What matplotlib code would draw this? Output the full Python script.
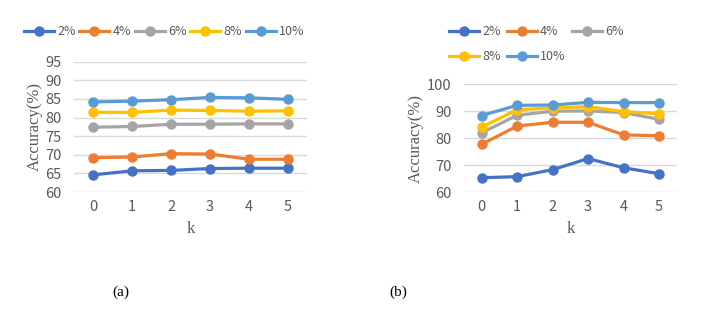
import numpy as np
import matplotlib
matplotlib.use("Agg")
import matplotlib.pyplot as plt

k = [0, 1, 2, 3, 4, 5]
labels = ["2%", "4%", "6%", "8%", "10%"]
colors = ["#4472C4", "#ED7D31", "#A5A5A5", "#FFC000", "#5B9BD5"]

# panel (a)
acc_a = [
    [64.6, 65.7, 65.8, 66.3, 66.4, 66.4],
    [69.2, 69.4, 70.3, 70.2, 68.8, 68.8],
    [77.4, 77.6, 78.2, 78.2, 78.3, 78.3],
    [81.4, 81.4, 82.0, 81.9, 81.7, 81.8],
    [84.2, 84.4, 84.8, 85.4, 85.3, 84.9],
]
# panel (b)
acc_b = [
    [65.3, 65.7, 68.3, 72.4, 69.0, 66.8],
    [77.7, 84.5, 85.9, 85.9, 81.2, 80.9],
    [82.0, 88.5, 90.0, 90.1, 89.5, 87.0],
    [84.1, 90.6, 91.2, 91.7, 89.8, 89.1],
    [88.4, 92.2, 92.3, 93.3, 93.2, 93.2],
]
yticks_a = [60, 65, 70, 75, 80, 85, 90, 95]
yticks_b = [60, 70, 80, 90, 100]

W, H = 708, 314
fig = plt.figure(figsize=(W / 100, H / 100), dpi=100)

tick_font = ["Noto Sans CJK SC", "DejaVu Sans"]
gray = "#595959"


def style(ax, yticks):
    ax.set_xlim(-0.5, 5.5)
    ax.set_ylim(yticks[0], yticks[-1])
    ax.set_yticks(yticks)
    ax.set_xticks(k)
    for s in ax.spines.values():
        s.set_visible(False)
    ax.tick_params(length=0, colors=gray, labelsize=10.5)
    ax.tick_params(axis="y", pad=9)
    ax.tick_params(axis="x", pad=6)
    for t in ax.get_xticklabels() + ax.get_yticklabels():
        t.set_fontfamily(tick_font)
    ax.grid(axis="y", color="#D9D9D9", lw=1)
    ax.set_axisbelow(True)
    ax.set_xlabel("k", family="Liberation Serif", fontsize=12, color=gray, labelpad=5)
    ax.set_ylabel("Accuracy(%)", family="Liberation Serif", fontsize=12, color=gray, labelpad=2)


def px(x0, y0, x1, y1):
    return [x0 / W, 1 - y1 / H, (x1 - x0) / W, (y1 - y0) / H]


def legend(ax, handles, names, ncol, x, y, colsp):
    leg = fig.legend(handles, names, loc="center left", bbox_to_anchor=(x / W, 1 - y / H),
                     bbox_transform=fig.transFigure, ncol=ncol, frameon=False,
                     borderpad=0, borderaxespad=0, handlelength=2.4, handletextpad=0.25,
                     columnspacing=colsp, labelspacing=0.95,
                     prop={"family": tick_font, "size": 9})
    for t in leg.get_texts():
        t.set_color(gray)


ax1 = fig.add_axes(px(74, 61.7, 307, 192))
h1 = []
for ys, lab, c in zip(acc_a, labels, colors):
    h1 += ax1.plot(k, ys, color=c, lw=2.3, marker="o", ms=6.5, label=lab)
style(ax1, yticks_a)
legend(ax1, h1, labels, 5, 24, 31.7, 0.3)

ax2 = fig.add_axes(px(464, 84.3, 676.7, 192))
h2 = []
for ys, lab, c in zip(acc_b, labels, colors):
    h2 += ax2.plot(k, ys, color=c, lw=2.3, marker="o", ms=6.5, label=lab)
style(ax2, yticks_b)
order = [0, 3, 1, 4, 2]  # row-wise fill for 3 columns
legend(ax2, [h2[i] for i in order], [labels[i] for i in order], 3, 449, 44.2, 0.5)

fig.text(121 / W, 1 - 292 / H, "(a)", family="Liberation Serif", fontsize=11, ha="center", va="center")
fig.text(398 / W, 1 - 292 / H, "(b)", family="Liberation Serif", fontsize=11, ha="center", va="center")

fig.savefig("out.png", dpi=100)
